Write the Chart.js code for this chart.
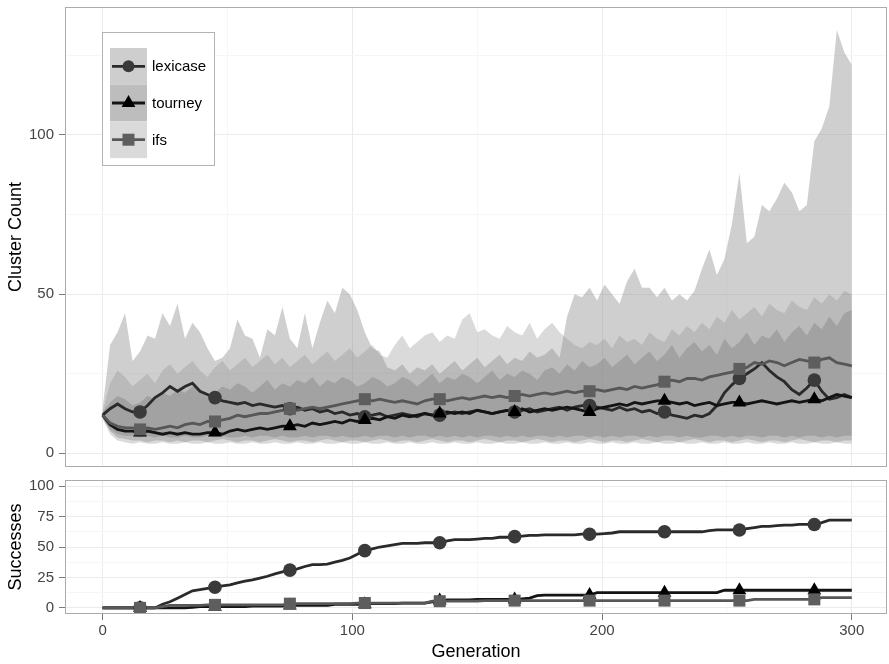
<!DOCTYPE html>
<html>
<head>
<meta charset="utf-8">
<script src="https://cdn.jsdelivr.net/npm/chart.js@4.4.1/dist/chart.umd.min.js"></script>
<style>
  html, body { margin: 0; padding: 0; background: #ffffff; }
  #wrap { position: relative; width: 889px; height: 664px; }
  canvas { position: absolute; left: 0; }
</style>
</head>
<body>
<div id="wrap">
  <canvas id="clusters" width="889" height="470" style="top:0"></canvas>
  <canvas id="successes" width="889" height="194" style="top:470px"></canvas>
</div>
<script>
// ---- data -------------------------------------------------------------
const SERIES = ['lexicase', 'tourney', 'ifs'];

const GENS = [0,3,6,9,12,15,18,21,24,27,
  30,33,36,39,42,45,48,51,54,57,
  60,63,66,69,72,75,78,81,84,87,
  90,93,96,99,102,105,108,111,114,117,
  120,123,126,129,132,135,138,141,144,147,
  150,153,156,159,162,165,168,171,174,177,
  180,183,186,189,192,195,198,201,204,207,
  210,213,216,219,222,225,228,231,234,237,
  240,243,246,249,252,255,258,261,264,267,
  270,273,276,279,282,285,288,291,294,297,
  300];

// mean cluster count per generation
const LEX_MEAN = [12,14,15.5,14,13,13,15,17.5,19,21,
  19.5,21,22,19.5,18.5,17.5,16.5,16,15.5,16,
  15,15.5,15,14.5,15,14,14.5,13.5,14,13,
  13.5,12.5,13,12,12.5,11.5,12,12.5,11.5,12,
  12.5,12,11.5,12.5,12,12,12.5,13,12.5,13,
  13.5,13,12.5,13,13.5,13,13.5,14,13,13.5,
  14,14.5,13.5,14.5,15,15,14.5,14,13.5,14.5,
  13.5,14,13,13.5,12.5,13,12,11.5,11,12,
  11.5,12.5,15,19,21.5,23.5,25,26.5,28.5,26,
  24,22.5,20,18.5,20.5,23,19.5,17,17.5,18.5,
  17.5];
const TOUR_MEAN = [12,9,7.5,7,7,6.5,7,6.5,6,6.5,
  6,6.5,6,6,6.5,6.5,6,7,7.5,7,
  7.5,8,7.5,8,8.5,8.5,9,8.5,9.5,9,
  9.5,10,9.5,10.5,10,10.5,11,10.5,11.5,11,
  12,11.5,12,12.5,12,12.5,13,12.5,13,12.5,
  13.5,13,12.5,13,13.5,13,14,13,13.5,14,
  13.5,14,14.5,14,13.5,13,14,14.5,15,15.5,
  15,16,15.5,16,16.5,16.5,16,15.5,16,15,
  15.5,16,15,15.5,16,16,15.5,16,16.5,16,
  15.5,16,16.5,16,16.5,17,16.5,17.5,18.5,18,
  17.5];
const IFS_MEAN = [12,9.5,8.5,8,8,7.5,8,7.5,8,8.5,
  8,9,9.5,9,10,10,10.5,11,12,11.5,
  12,12.5,12.5,13,13.5,14,13.5,14,14.5,14,
  14.5,15,15.5,16,16.5,17,16.5,17,16.5,16,
  16.5,16,15.5,16.5,17,17,16.5,17,17.5,17,
  17.5,18,17.5,18,17.5,18,18.5,18,18.5,19,
  18.5,19,19.5,19,19.5,19.5,20,19.5,20,20.5,
  20,21,20.5,21,21.5,22.5,23,22.5,23.5,23.5,
  23,24,24.5,25,25.5,26.5,27,28.5,28,29,
  28.5,27.5,28.5,29.5,29,28.5,29.5,30,28.5,28,
  27.5];

// ribbon bounds
const LEX_HI = [14,34,38,44,29,32,37,36,44,40,
  47,36,41,38,33,29,30,33,42,37,
  36,30,39,37,46,36,33,44,33,41,
  48,44,52,50,45,38,33,32,27,26,
  28,25,27,26,28,25,27,29,26,28,
  30,27,29,31,28,30,29,32,30,31,
  33,30,43,50,49,52,48,53,50,47,
  54,58,52,52,49,52,48,50,48,51,
  58,64,56,61,72,88,66,68,78,76,
  80,85,82,76,78,98,102,109,133,126,
  122];
const LEX_LO = [11,7,5,4.5,4,4,3.5,4,4,3.5,
  4,3.5,4,4,3.5,4,4.5,4,3.5,4,
  4,3.5,4,4.5,4,3.5,4,4,3.5,4,
  4.5,4,3.5,4,4,3.5,4,4.5,4,3.5,
  4,4,3.5,4,4.5,4,3.5,4,4,3.5,
  4,4.5,4,3.5,4,4,3.5,4,4.5,4,
  3.5,4,4,3.5,4,4.5,4,3.5,4,4,
  3.5,4,4.5,4,3.5,4,4,3.5,4,4.5,
  4,3.5,4,4,3.5,4,4.5,4,3.5,4,
  4,3.5,4,4.5,4,3.5,4,4,3.5,4,
  4];
const TOUR_HI = [13,16,18,17,15,16,18,17,19,18,
  20,19,21,20,18,19,21,20,22,21,
  19,21,23,20,22,21,23,22,24,21,
  23,22,24,23,21,22,24,23,21,22,
  24,23,21,23,25,22,24,23,25,24,
  22,24,26,23,25,24,26,25,23,26,
  27,25,28,26,29,27,28,30,27,29,
  31,28,30,32,29,31,34,30,33,35,
  32,34,31,36,33,35,38,34,37,36,
  39,35,38,40,37,41,39,43,40,44,
  45];
const TOUR_LO = [11,7.5,6,5.5,5.5,5,5.5,5,5.5,5,
  5,5.5,5,5,5.5,5,5.5,5,5,5.5,
  5,5.5,5.5,5,5.5,5,5,5.5,5,5.5,
  5.5,5,5.5,5,5,5.5,5,5.5,5.5,5,
  5.5,5,5.5,5.5,5,5.5,5,5.5,5,5.5,
  5,5.5,5.5,5,5.5,5,5.5,5,5.5,5.5,
  5,5.5,5,5.5,5.5,5,5.5,5,5.5,5,
  5.5,5.5,5,5.5,5,5.5,5.5,5,5.5,5,
  5,5.5,5.5,5,5.5,5,5.5,5.5,5,5.5,
  5.5,5,5.5,5,5.5,5.5,5,5.5,5,5.5,
  5.5];
const IFS_HI = [13,22,26,24,21,23,25,22,26,28,
  25,27,29,26,24,27,29,26,28,30,
  27,29,31,28,30,27,29,31,28,30,
  32,29,31,33,30,32,34,31,30,34,
  37,33,35,37,38,35,37,36,42,44,
  38,39,37,36,40,38,37,41,36,39,
  41,38,36,34,33,35,34,36,33,37,
  35,36,34,38,36,35,39,37,40,38,
  41,39,43,41,45,42,44,46,43,47,
  45,44,48,46,45,49,47,50,48,51,
  50];
const IFS_LO = [11,6,4,3.5,3,3.5,3,3,3.5,3,
  3,3.5,3,3,3.5,3,3,3.5,3,3,
  3.5,3,3,3.5,3,3,3.5,3,3,3.5,
  3,3,3.5,3,3,3.5,3,3,3.5,3,
  3,3.5,3,3,3.5,3,3,3.5,3,3,
  3.5,3,3,3.5,3,3,3.5,3,3,3.5,
  3,3,3.5,3,3,3.5,3,3,3.5,3,
  3,3.5,3,3,3.5,3,3,3.5,3,3,
  3.5,3,3,3.5,3,3,3.5,3,3,3.5,
  3,3,3.5,3,3,3.5,3,3,3.5,3,
  3];

// cumulative successes
const LEX_SUCC = [0,0,0,0,0,0,0,0,3,5,
  8,11,14,15,16,17,18,19,20.5,22,
  23,24.5,26,28,29.5,31,32,34,35.5,35.5,
  36,37.5,39,41,44,47,48.5,50,51,52,
  53,53,53,53.5,53.5,53.5,55,56,56,56,
  56.5,57,57,58,58,58.5,59,59.5,59.5,60,
  60,60,60,60,60.5,60.5,60.5,61,61.5,62.5,
  62.5,62.5,62.5,62.5,62.5,62.5,62.5,62.5,62.5,62.5,
  62.5,63.5,64,64,64,64,65,66,67,67,
  67.5,68,68,68.5,68.5,68.5,70,72,72,72,
  72];
const TOUR_SUCC = [0,0,0,0,0,0,0,0,0,0,
  0,0,0.5,1,1,1,1,1,1,1,
  1.5,1.5,1.5,1.5,1.5,2,2,2,2,2,
  2,3,3,3,3,3,3.5,3.5,3.5,3.5,
  4,4,4,4,5,6,6.5,6.5,6.5,6.5,
  7,7,7,7,7,7,7.5,8,10,10.5,
  10.5,10.5,10.5,10.5,10.5,10.5,12.5,12.5,12.5,12.5,
  12.5,12.5,12.5,12.5,12.5,12.5,12.5,12.5,12.5,12.5,
  12.5,12.5,12.5,14.5,14.5,14.5,14.5,14.5,14.5,14.5,
  14.5,14.5,14.5,14.5,14.5,14.5,14.5,14.5,14.5,14.5,
  14.5];
const IFS_SUCC = [0,0,0,0,0,0,0,0,1,2,
  2,2,2,2,2.5,2.5,2.5,2.5,2.5,2.5,
  2.5,2.5,2.5,2.5,2.5,3.5,3.5,3.5,3.5,3.5,
  3.5,3.5,3.5,3.5,4,4,4,4,4,4,
  4,4,4,4,5.5,5.5,5.5,5.5,5.5,5.5,
  5.5,6,6,6,6,6,6,6,6,6,
  6,6,6,6,6,6,6,6,6,6,
  6,6,6,6,6,6,6,6,6,6,
  6,6,6,6,6,6,6,7,7,7,
  7,7,7,7,7,7,8.5,8.5,8.5,8.5,
  8.5];

const CLUSTER_TICKS = [0, 25, 50, 75, 100, 125];
const SUCCESS_TICKS = [0, 12.5, 25, 37.5, 50, 62.5, 75, 87.5, 100];
const GEN_TICKS = [0, 50, 100, 150, 200, 250, 300];

// ---- styling ----------------------------------------------------------
const FONT = '"Liberation Sans", Arial, Helvetica, sans-serif';
const LINE_COL = ['#2a2a2a', '#141414', '#575757'];
const MARK_COL = ['#3a3a3a', '#000000', '#5e5e5e'];
const MARK_STYLE = ['circle', 'triangle', 'rect'];
const MARK_R = [6.8, 8, 8.5];
const RIBBON_FILL = ['rgba(140,140,140,0.42)', 'rgba(140,140,140,0.5)', 'rgba(140,140,140,0.32)'];
const KEY_FILL = ['#cecece', '#bdbdbd', '#dadada'];
const GRID_MAJOR = '#ebebeb';
const GRID_MINOR = '#f6f6f6';
const TICK_COL = '#7a7a7a';
const LABEL_COL = '#444444';

const pts = arr => arr.map((v, i) => ({ x: GENS[i], y: v }));
const isMarker = i => GENS[i] % 30 === 15;

function ribbon(hi, lo, fill, order) {
  return [
    { data: pts(hi), fill: '+1', backgroundColor: fill, borderColor: 'rgba(0,0,0,0)',
      borderWidth: 0, pointRadius: 0, tension: 0, order },
    { data: pts(lo), fill: false, borderColor: 'rgba(0,0,0,0)', borderWidth: 0,
      pointRadius: 0, tension: 0, order }
  ];
}
function lineSet(arr, k) {
  return { data: pts(arr), fill: false, borderColor: LINE_COL[k], borderWidth: 2.8,
           pointRadius: 0, tension: 0, order: 6 - k };
}
function markerSet(arr, k) {
  return { data: pts(arr), showLine: false, fill: false,
           pointStyle: MARK_STYLE[k], pointBackgroundColor: MARK_COL[k],
           pointBorderWidth: 0, pointBorderColor: MARK_COL[k],
           pointRadius: c => isMarker(c.dataIndex) ? MARK_R[k] : 0,
           order: 3 - k };
}
// fixed axis box: no extra room reserved for overhanging tick labels
function fixBox(size, horizontal) {
  return s => {
    if (horizontal) s.height = size; else s.width = size;
    s.paddingTop = 0; s.paddingBottom = 0; s.paddingLeft = 0; s.paddingRight = 0;
  };
}

// panel outline drawn above the data
const panelBorder = {
  id: 'panelBorder',
  afterDatasetsDraw(chart) {
    const { ctx, chartArea: a } = chart;
    ctx.save();
    ctx.strokeStyle = '#ababab';
    ctx.lineWidth = 1;
    ctx.strokeRect(Math.round(a.left) + 0.5, Math.round(a.top) + 0.5,
                   Math.round(a.right - a.left) - 1, Math.round(a.bottom - a.top) - 1);
    ctx.restore();
  }
};

// boxed legend inside the cluster panel
const legendBox = {
  id: 'legendBox',
  afterDraw(chart) {
    const ctx = chart.ctx;
    ctx.save();
    ctx.fillStyle = '#ffffff';
    ctx.fillRect(102.5, 32.5, 112, 133);
    ctx.strokeStyle = '#b3b3b3';
    ctx.lineWidth = 1;
    ctx.strokeRect(102.5, 32.5, 112, 133);
    SERIES.forEach((name, k) => {
      const y0 = 48 + k * 36.7;
      ctx.fillStyle = KEY_FILL[k];
      ctx.fillRect(110, y0, 37, 36.7);
      const cy = y0 + 18.3, cx = 128.5;
      ctx.strokeStyle = LINE_COL[k];
      ctx.lineWidth = 2.8;
      ctx.beginPath(); ctx.moveTo(112, cy); ctx.lineTo(145, cy); ctx.stroke();
      ctx.fillStyle = MARK_COL[k];
      ctx.beginPath();
      if (MARK_STYLE[k] === 'circle') {
        ctx.arc(cx, cy, 6, 0, Math.PI * 2);
      } else if (MARK_STYLE[k] === 'triangle') {
        ctx.moveTo(cx, cy - 8); ctx.lineTo(cx + 6.9, cy + 4); ctx.lineTo(cx - 6.9, cy + 4); ctx.closePath();
      } else {
        ctx.rect(cx - 6, cy - 6, 12, 12);
      }
      ctx.fill();
      ctx.fillStyle = '#000000';
      ctx.font = '15px ' + FONT;
      ctx.textBaseline = 'middle';
      ctx.textAlign = 'left';
      ctx.fillText(name, 152, cy + 1);
    });
    ctx.restore();
  }
};

const gridColor = (majorStep) => c => (c.tick && c.tick.value % majorStep === 0) ? GRID_MAJOR : GRID_MINOR;

// ---- cluster count panel ----------------------------------------------
new Chart(document.getElementById('clusters'), {
  type: 'line',
  data: {
    datasets: [
      ...ribbon(IFS_HI, IFS_LO, RIBBON_FILL[2], 22),
      ...ribbon(LEX_HI, LEX_LO, RIBBON_FILL[0], 21),
      ...ribbon(TOUR_HI, TOUR_LO, RIBBON_FILL[1], 20),
      lineSet(LEX_MEAN, 0), lineSet(TOUR_MEAN, 1), lineSet(IFS_MEAN, 2),
      markerSet(LEX_MEAN, 0), markerSet(TOUR_MEAN, 1), markerSet(IFS_MEAN, 2)
    ]
  },
  options: {
    responsive: false,
    animation: false,
    events: [],
    layout: { padding: { top: 7, right: 2, bottom: 3, left: 0 } },
    plugins: { legend: { display: false }, tooltip: { enabled: false }, filler: { propagate: false } },
    scales: {
      x: {
        type: 'linear', min: -15.05, max: 314.1,
        afterBuildTicks: s => { s.ticks = GEN_TICKS.map(v => ({ value: v })); },
        ticks: { display: false },
        grid: { color: gridColor(100), drawTicks: false, lineWidth: 1 },
        border: { display: false },
        afterFit: fixBox(0, true)
      },
      y: {
        type: 'linear', min: -4.3, max: 140.2,
        afterBuildTicks: s => { s.ticks = CLUSTER_TICKS.map(v => ({ value: v })); },
        ticks: {
          autoSkip: false, padding: 5, color: LABEL_COL,
          font: { family: FONT, size: 15 },
          callback: v => (v % 50 === 0 ? String(v) : '')
        },
        grid: {
          color: gridColor(50), tickLength: 6,
          tickColor: c => (c.tick && c.tick.value % 50 === 0) ? TICK_COL : 'rgba(0,0,0,0)'
        },
        border: { display: false },
        title: { display: true, text: 'Cluster Count', color: '#000000',
                 font: { family: FONT, size: 18 }, padding: { top: 5, bottom: 0 } },
        afterFit: fixBox(65, false)
      }
    }
  },
  plugins: [panelBorder, legendBox]
});

// ---- successes panel --------------------------------------------------
new Chart(document.getElementById('successes'), {
  type: 'line',
  data: {
    datasets: [
      lineSet(LEX_SUCC, 0), lineSet(TOUR_SUCC, 1), lineSet(IFS_SUCC, 2),
      markerSet(LEX_SUCC, 0), markerSet(TOUR_SUCC, 1), markerSet(IFS_SUCC, 2)
    ]
  },
  options: {
    responsive: false,
    animation: false,
    events: [],
    layout: { padding: { top: 10, right: 2, bottom: 0, left: 0 } },
    plugins: { legend: { display: false }, tooltip: { enabled: false } },
    scales: {
      x: {
        type: 'linear', min: -15.05, max: 314.1,
        afterBuildTicks: s => { s.ticks = GEN_TICKS.map(v => ({ value: v })); },
        ticks: {
          autoSkip: false, maxRotation: 0, padding: 2, color: LABEL_COL,
          font: { family: FONT, size: 15 },
          callback: v => (v % 100 === 0 ? String(v) : '')
        },
        grid: {
          color: gridColor(100), tickLength: 6,
          tickColor: c => (c.tick && c.tick.value % 100 === 0) ? TICK_COL : 'rgba(0,0,0,0)'
        },
        border: { display: false },
        title: { display: true, text: 'Generation', color: '#000000',
                 font: { family: FONT, size: 18 }, padding: { top: 0, bottom: 1 } },
        afterFit: fixBox(50, true)
      },
      y: {
        type: 'linear', min: -5, max: 105,
        afterBuildTicks: s => { s.ticks = SUCCESS_TICKS.map(v => ({ value: v })); },
        ticks: {
          autoSkip: false, padding: 5, color: LABEL_COL,
          font: { family: FONT, size: 15 },
          callback: v => (v % 25 === 0 ? String(v) : '')
        },
        grid: {
          color: gridColor(25), tickLength: 6,
          tickColor: c => (c.tick && c.tick.value % 25 === 0) ? TICK_COL : 'rgba(0,0,0,0)'
        },
        border: { display: false },
        title: { display: true, text: 'Successes', color: '#000000',
                 font: { family: FONT, size: 18 }, padding: { top: 5, bottom: 0 } },
        afterFit: fixBox(65, false)
      }
    }
  },
  plugins: [panelBorder]
});
</script>
</body>
</html>
